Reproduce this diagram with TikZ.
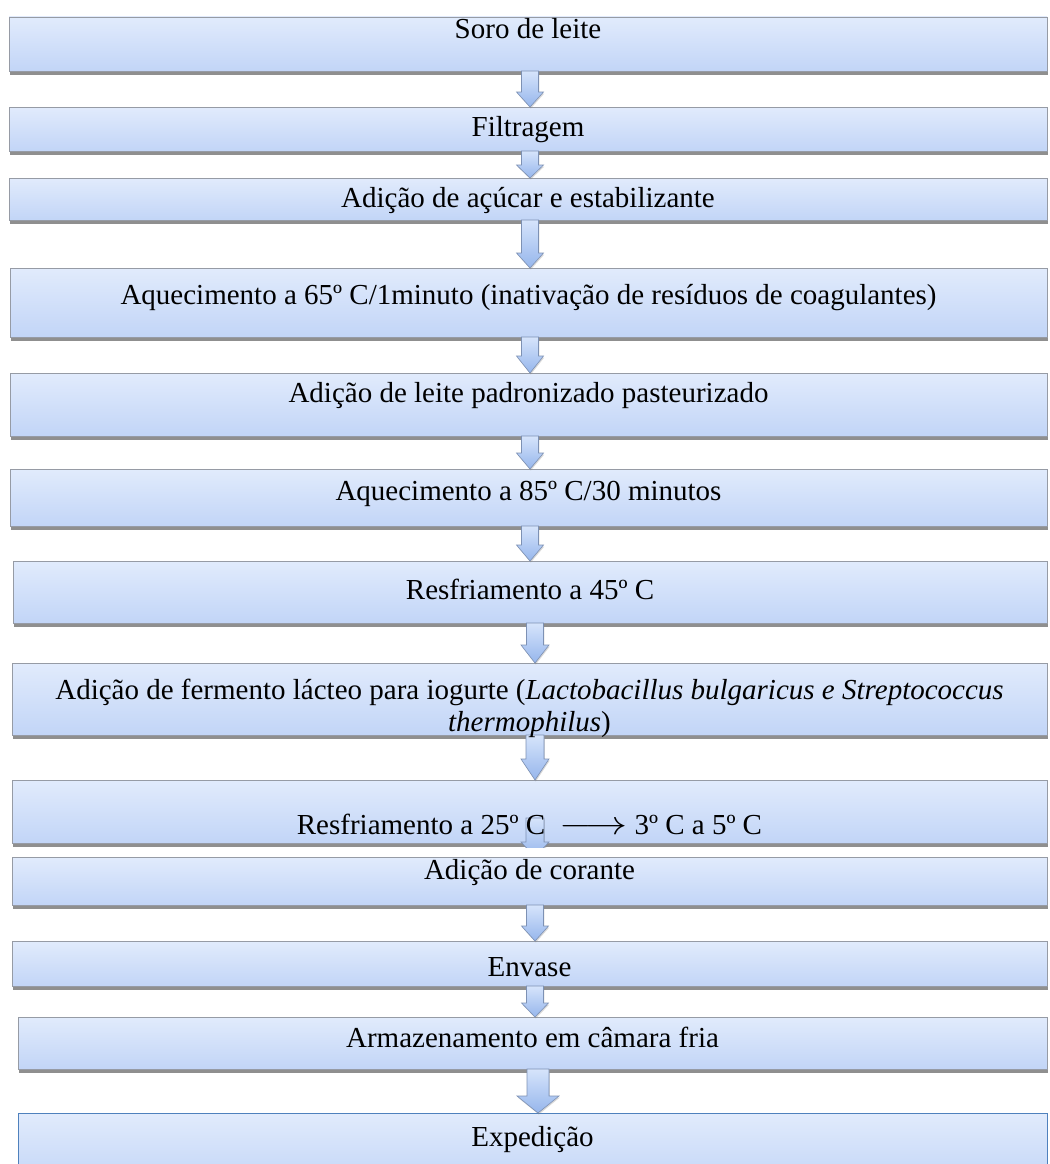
\RequirePackage{fix-cm}
\documentclass[tikz,border=0pt]{standalone}
\usepackage{fontspec}
\setmainfont{Liberation Serif}
\usetikzlibrary{calc,shadows}
\definecolor{boxtop}{RGB}{225,235,252}
\definecolor{boxbot}{RGB}{194,213,247}
\definecolor{boxline}{RGB}{150,155,165}
\definecolor{lastline}{RGB}{79,129,189}
\definecolor{arrtop}{RGB}{214,228,251}
\definecolor{arrbot}{RGB}{150,182,236}
\definecolor{arrline}{RGB}{125,145,180}
\tikzset{
  stepbox/.style={rectangle, inner sep=0pt, outer sep=0pt, top color=boxtop, bottom color=boxbot,
    draw=boxline, line width=0.8pt,
    drop shadow={shadow xshift=0.6pt, shadow yshift=-3.5pt, opacity=0.55, fill=black!80}},
  steptext/.style={inner sep=0pt, font=\fontsize{29}{32}\selectfont, anchor=base, text=black},
  arrowstyle/.style={top color=arrtop, bottom color=arrbot, draw=arrline, line width=0.6pt,
    drop shadow={shadow xshift=0.8pt, shadow yshift=-1.5pt, opacity=0.3}},
}
% #1 start, #2 end, #3 shaft half width, #4 head half width, #5 head length
\newcommand{\blockarr}[5]{%
  \path[arrowstyle] let \p1=(#1), \p2=(#2) in
    (\x1-#3,\y1) -- (\x1+#3,\y1) -- (\x1+#3,\y2+#5) -- (\x1+#4,\y2+#5) -- (\x1,\y2)
    -- (\x1-#4,\y2+#5) -- (\x1-#3,\y2+#5) -- cycle;}
\begin{document}
\begin{tikzpicture}[x=1pt,y=-1pt]
\useasboundingbox (0,0) rectangle (1049,1164);
\fill[white] (0,0) rectangle (1049,1164);

% boxes
\node[stepbox, minimum width=1038pt, minimum height=54pt] (b1) at (528,44) {};
\node[stepbox, minimum width=1038pt, minimum height=44pt] (b2) at (528,129) {};
\node[stepbox, minimum width=1038pt, minimum height=42pt] (b3) at (528,199) {};
\node[stepbox, minimum width=1037pt, minimum height=69pt] (b4) at (528.5,302.5) {};
\node[stepbox, minimum width=1037pt, minimum height=63pt] (b5) at (528.5,404.5) {};
\node[stepbox, minimum width=1037pt, minimum height=57pt] (b6) at (528.5,497.5) {};
\node[stepbox, minimum width=1034pt, minimum height=62pt] (b7) at (530,592) {};
\node[stepbox, minimum width=1035pt, minimum height=72pt] (b8) at (529.5,699) {};
\node[stepbox, minimum width=1035pt, minimum height=63pt] (b9) at (529.5,811.5) {};
\node[stepbox, minimum width=1035pt, minimum height=48pt] (b10) at (529.5,881) {};
\node[stepbox, minimum width=1035pt, minimum height=45pt] (b11) at (529.5,963.5) {};
\node[stepbox, minimum width=1029pt, minimum height=52pt] (b12) at (532.5,1043) {};
\node[stepbox, draw=lastline, minimum width=1029pt, minimum height=72pt] (b13) at (532.5,1149) {};

% arrow axes
\coordinate (xa) at (530,0);
\coordinate (xb) at (535,0);
\coordinate (xc) at (538,0);
\coordinate (a9s) at (535,818);

% arrows
\blockarr{xa |- b1.south}{xa |- b2.north}{8.5pt}{13.5pt}{15pt}
\blockarr{xa |- b2.south}{xa |- b3.north}{8.5pt}{13.5pt}{13pt}
\blockarr{xa |- b3.south}{xa |- b4.north}{8.5pt}{13.5pt}{15pt}
\blockarr{xa |- b4.south}{xa |- b5.north}{8.5pt}{13.5pt}{17pt}
\blockarr{xa |- b5.south}{xa |- b6.north}{8.5pt}{13.5pt}{16pt}
\blockarr{xa |- b6.south}{xa |- b7.north}{8.5pt}{13.5pt}{16pt}
\blockarr{xb |- b7.south}{xb |- b8.north}{8.5pt}{14pt}{18pt}
\blockarr{xb |- b8.south}{xb |- b9.north}{9pt}{14pt}{21pt}
\begin{scope}
  \clip (0,816) rectangle (1049,847);
  \blockarr{a9s}{xb |- b10.north}{9pt}{14pt}{15pt}
\end{scope}
\blockarr{xb |- b10.south}{xb |- b11.north}{8.5pt}{13.5pt}{15pt}
\blockarr{xb |- b11.south}{xb |- b12.north}{8.5pt}{13.5pt}{14pt}
\blockarr{xc |- b12.south}{xc |- b13.north}{11pt}{21pt}{17pt}

% texts
\node[steptext] (t1) at (528,39) {Soro de leite};
\node[steptext] (t2) at (528,136) {Filtragem};
\node[steptext] (t3) at (528,207) {Adição de açúcar e estabilizante};
\node[steptext] (t4) at (528.5,304) {Aquecimento a 65º C/1minuto (inativação de resíduos de coagulantes)};
\node[steptext] (t5) at (528.5,402) {Adição de leite padronizado pasteurizado};
\node[steptext] (t6) at (528.5,500) {Aquecimento a 85º C/30 minutos};
\node[steptext] (t7) at (530,599) {Resfriamento a 45º C};
\node[steptext, anchor=north, align=center] (t8) at (529.5,679)
  {Adição de fermento lácteo para iogurte (\textit{Lactobacillus bulgaricus e Streptococcus}\\\textit{thermophilus})};
\node[steptext] (t9) at (529.5,834) {Resfriamento a 25º C \ \scalebox{1.45}[1.15]{$\longrightarrow$}\ 3º C a 5º C};
\node[steptext] (t10) at (529.5,879) {Adição de corante};
\node[steptext] (t11) at (529.5,976) {Envase};
\node[steptext] (t12) at (532.5,1047) {Armazenamento em câmara fria};
\node[steptext] (t13) at (532.5,1146) {Expedição};
\end{tikzpicture}
\end{document}
